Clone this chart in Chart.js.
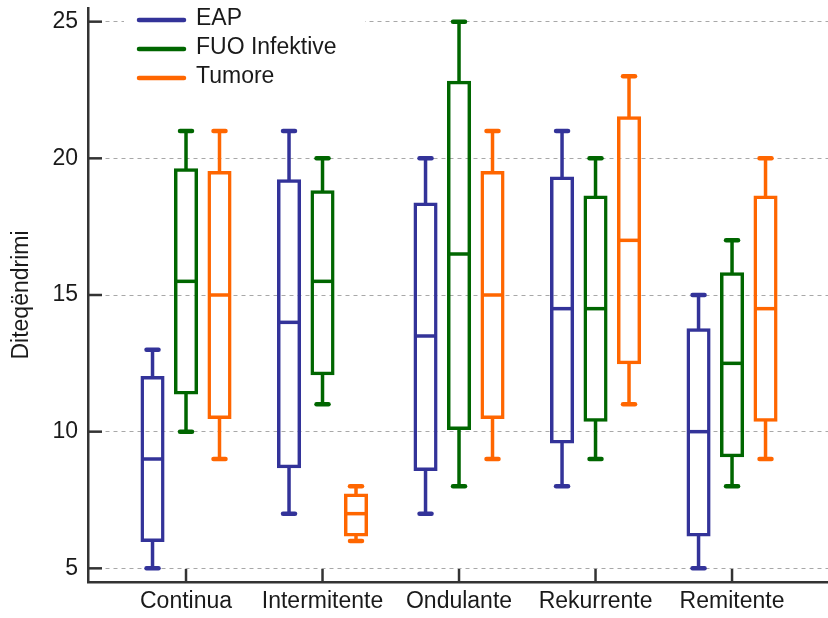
<!DOCTYPE html>
<html>
<head>
<meta charset="utf-8">
<script src="https://cdn.jsdelivr.net/npm/chart.js@4"></script>
<style>
  html, body { margin: 0; padding: 0; background: #ffffff; }
  #wrap { width: 828px; height: 618px; }
</style>
</head>
<body>
<div id="wrap"><canvas id="chart" width="828" height="618"></canvas></div>
<script>
// Categories on the x axis
const categories = ['Continua', 'Intermitente', 'Ondulante', 'Rekurrente', 'Remitente'];

// Five-number summaries per category: [min, q1, median, q3, max]
const eap = [
  [5, 6, 9, 12, 13],
  [7, 8.7, 14, 19.2, 21],
  [7, 8.6, 13.5, 18.35, 20],
  [8, 9.6, 14.5, 19.3, 21],
  [5, 6.2, 10, 13.75, 15]
];
const fuoInfektive = [
  [10, 11.4, 15.5, 19.6, 21],
  [11, 12.1, 15.5, 18.8, 20],
  [8, 10.1, 16.5, 22.8, 25],
  [9, 10.4, 14.5, 18.6, 20],
  [8, 9.1, 12.5, 15.8, 17]
];
const tumore = [
  [9, 10.5, 15, 19.5, 21],
  [6, 6.2, 7, 7.7, 8],
  [9, 10.5, 15, 19.5, 21],
  [11, 12.5, 17, 21.5, 23],
  [9, 10.4, 14.5, 18.6, 20]
];

// Y axis tick values
const yTicks = [5, 10, 15, 20, 25];

const seriesNames = ['EAP', 'FUO Infektive', 'Tumore'];
const seriesColors = ['#333399', '#006600', '#ff6600'];
const seriesStats = [eap, fuoInfektive, tumore];

const FONT = '"Liberation Sans", Arial, Helvetica, sans-serif';
const TEXT = '#1a1a1a';
const AXIS = '#333333';

// Boxes (q1..q3) are floating bars; whiskers and medians are added by a plugin
const datasets = seriesStats.map((stats, s) => ({
  label: seriesNames[s],
  data: stats.map((v, i) => ({ x: i + 1, y: [v[1], v[3]] })),
  stats: stats,
  borderColor: seriesColors[s],
  backgroundColor: 'rgba(255,255,255,0)',
  borderWidth: 1.5,
  inflateAmount: 1,
  borderSkipped: false,
  barPercentage: 0.66,
  categoryPercentage: 0.736
}));

function strokeLine(ctx, x1, y1, x2, y2) {
  ctx.beginPath();
  ctx.moveTo(x1, y1);
  ctx.lineTo(x2, y2);
  ctx.stroke();
}

const boxWhiskers = {
  id: 'boxWhiskers',
  afterDatasetsDraw(chart) {
    const ctx = chart.ctx;
    const ys = chart.scales.y;
    const py = v => ys.getPixelForValue(v);
    chart.data.datasets.forEach((ds, di) => {
      const meta = chart.getDatasetMeta(di);
      if (meta.hidden) return;
      meta.data.forEach((bar, i) => {
        const [mn, q1, med, q3, mx] = ds.stats[i];
        const x = bar.x;
        const half = bar.width / 2;
        ctx.save();
        ctx.strokeStyle = ds.borderColor;
        ctx.lineCap = 'butt';
        ctx.lineWidth = 3.5;
        strokeLine(ctx, x - half, py(med), x + half, py(med));
        strokeLine(ctx, x, py(q3), x, py(mx));
        strokeLine(ctx, x, py(q1), x, py(mn));
        ctx.lineWidth = 4.5;
        ctx.lineCap = 'round';
        strokeLine(ctx, x - 6, py(mx), x + 6, py(mx));
        strokeLine(ctx, x - 6, py(mn), x + 6, py(mn));
        ctx.restore();
      });
    });
  }
};

// Short tick marks pointing into the plot area
const innerTicks = {
  id: 'innerTicks',
  afterDraw(chart) {
    const ctx = chart.ctx;
    const { left, bottom } = chart.chartArea;
    ctx.save();
    ctx.strokeStyle = AXIS;
    ctx.lineWidth = 2.5;
    chart.scales.y.ticks.forEach(t => {
      const yy = chart.scales.y.getPixelForValue(t.value);
      strokeLine(ctx, left, yy, left + 14, yy);
    });
    chart.scales.x.ticks.forEach(t => {
      const xx = chart.scales.x.getPixelForValue(t.value);
      strokeLine(ctx, xx, bottom, xx, bottom - 13);
    });
    ctx.restore();
  }
};

// Legend drawn inside the plot area, top left, on a white panel
const insideLegend = {
  id: 'insideLegend',
  afterDraw(chart) {
    const ctx = chart.ctx;
    ctx.save();
    ctx.fillStyle = '#ffffff';
    ctx.fillRect(124, 0, 241, 92);
    ctx.font = '23px ' + FONT;
    ctx.textBaseline = 'middle';
    ctx.textAlign = 'left';
    chart.data.datasets.forEach((ds, i) => {
      const yy = 20 + i * 29;
      ctx.strokeStyle = ds.borderColor;
      ctx.lineWidth = 4.5;
      ctx.lineCap = 'round';
      strokeLine(ctx, 139, yy, 184, yy);
      ctx.fillStyle = TEXT;
      ctx.fillText(ds.label, 196, yy - 1);
    });
    ctx.restore();
  }
};

new Chart(document.getElementById('chart'), {
  type: 'bar',
  data: { datasets },
  plugins: [boxWhiskers, innerTicks, insideLegend],
  options: {
    responsive: false,
    animation: false,
    layout: { padding: { top: 8, left: 0, right: 0, bottom: 0 } },
    plugins: {
      legend: { display: false },
      tooltip: { enabled: false }
    },
    scales: {
      x: {
        type: 'linear',
        min: 0.282,
        max: 5.703,
        offset: false,
        afterBuildTicks: s => { s.ticks = categories.map((_, i) => ({ value: i + 1 })); },
        afterFit: s => { s.height = 36; s.paddingLeft = 0; s.paddingRight = 0; },
        grid: { display: false, drawTicks: false, offset: false },
        border: { display: true, color: AXIS, width: 2.5 },
        ticks: {
          padding: 6,
          autoSkip: false,
          maxRotation: 0,
          color: TEXT,
          font: { family: FONT, size: 23 },
          callback: v => categories[Math.round(v) - 1]
        }
      },
      y: {
        min: 4.5,
        max: 25.5,
        afterBuildTicks: s => { s.ticks = yTicks.map(v => ({ value: v })); },
        afterFit: s => { s.width = 88; s.paddingTop = 0; s.paddingBottom = 0; },
        grid: { color: '#a8a8a8', lineWidth: 1, drawTicks: false },
        border: { display: true, color: AXIS, width: 2.5, dash: [4, 4] },
        ticks: { padding: 10, color: TEXT, font: { family: FONT, size: 23 } },
        title: {
          display: true,
          text: 'Diteqëndrimi',
          color: TEXT,
          font: { family: FONT, size: 23 },
          padding: { top: 8, bottom: 0 }
        }
      }
    }
  }
});
</script>
</body>
</html>
